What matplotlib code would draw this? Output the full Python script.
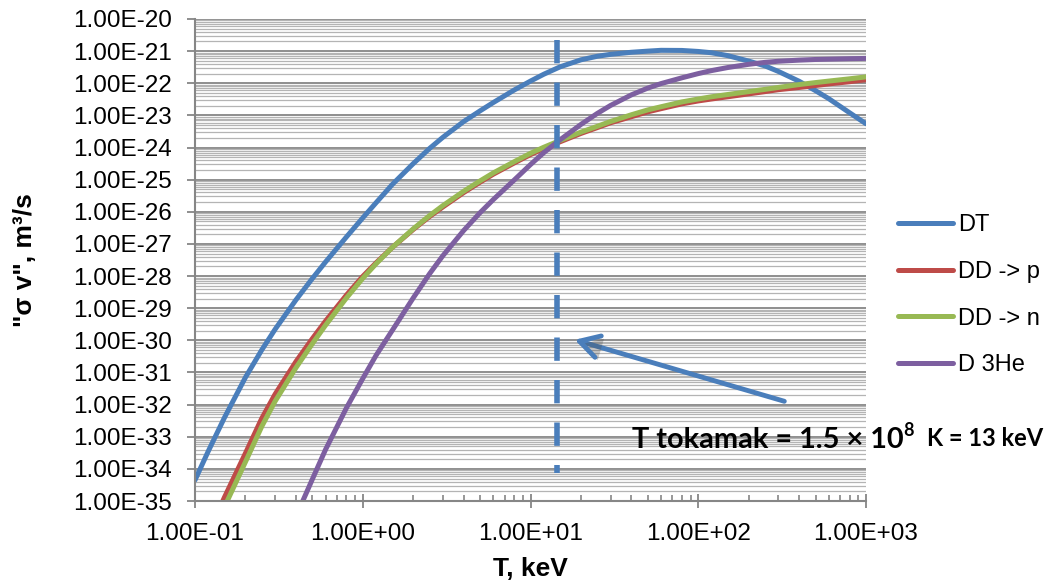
import numpy as np
import matplotlib
matplotlib.use("Agg")
import matplotlib.pyplot as plt
from matplotlib.ticker import LogLocator, FuncFormatter, NullFormatter
import matplotlib.patheffects as pe

plt.rcParams['font.family'] = ['Liberation Sans', 'DejaVu Sans']

# T in keV, <sigma v> in m^3/s
T_dt = [0.1, 0.12, 0.15, 0.2, 0.25, 0.3, 0.4, 0.5, 0.6, 0.8, 1, 1.2, 1.5, 2, 2.5, 3, 4, 5,
        6, 8, 10, 12, 15, 20, 25, 30, 40, 50, 60, 80, 100, 120, 150, 200, 250, 300,
        400, 500, 600, 800, 1000]
sv_dt = [4.47e-35, 3.55e-34, 3.98e-33, 7.08e-32, 5.01e-31, 2.19e-30, 1.82e-29, 8.32e-29,
         2.75e-28, 1.66e-27, 6.46e-27, 1.91e-26, 7.08e-26, 3.16e-25, 9.33e-25, 2.07e-24,
         6.46e-24, 1.38e-23, 2.51e-23, 6.17e-23, 1.17e-22, 1.91e-22, 3.24e-22, 5.37e-22,
         6.92e-22, 7.94e-22, 9.23e-22, 1.0e-21, 1.06e-21, 1.05e-21, 9.77e-22, 8.91e-22,
         7.24e-22, 4.90e-22, 3.47e-22, 2.34e-22, 1.15e-22, 5.89e-23, 3.31e-23, 1.20e-23,
         5.50e-24]

T_dd = [0.14, 0.15, 0.2, 0.25, 0.3, 0.4, 0.5, 0.6, 0.8, 1, 1.2, 1.5, 2, 2.5, 3, 4, 5, 6,
        8, 10, 12, 15, 20, 25, 30, 40, 50, 60, 80, 100, 120, 150, 200, 250, 300, 400,
        500, 600, 800, 1000]
sv_ddp = [5.89e-36, 1.32e-35, 3.09e-34, 3.72e-33, 2.09e-32, 2.19e-31, 1.12e-30, 3.98e-30,
          2.57e-29, 9.77e-29, 2.57e-28, 7.76e-28, 2.82e-27, 7.08e-27, 1.41e-26, 3.98e-26,
          8.32e-26, 1.48e-25, 3.31e-25, 6.03e-25, 9.33e-25, 1.51e-24, 2.75e-24, 4.17e-24,
          5.89e-24, 9.12e-24, 1.29e-23, 1.62e-23, 2.29e-23, 2.82e-23, 3.24e-23, 3.80e-23,
          4.68e-23, 5.50e-23, 6.31e-23, 7.41e-23, 8.51e-23, 9.55e-23, 1.12e-22, 1.29e-22]
sv_ddn = [2.95e-36, 6.61e-36, 1.66e-34, 2.09e-33, 1.26e-32, 1.41e-31, 7.76e-31, 2.95e-30,
          2.09e-29, 8.51e-29, 2.40e-28, 7.76e-28, 2.95e-27, 7.59e-27, 1.55e-26, 4.37e-26,
          9.12e-26, 1.62e-25, 3.63e-25, 6.61e-25, 1.02e-24, 1.66e-24, 3.02e-24, 4.57e-24,
          6.46e-24, 1.05e-23, 1.48e-23, 1.86e-23, 2.63e-23, 3.24e-23, 3.80e-23, 4.47e-23,
          5.50e-23, 6.46e-23, 7.41e-23, 9.12e-23, 1.05e-22, 1.17e-22, 1.38e-22, 1.58e-22]

T_dhe3 = [0.4, 0.5, 0.6, 0.8, 1, 1.2, 1.5, 2, 2.5, 3, 4, 5, 6, 8, 10, 12, 15, 20, 25, 30,
          40, 50, 60, 80, 100, 120, 150, 200, 250, 300, 400, 500, 600, 800, 1000]
sv_dhe3 = [3.31e-36, 4.68e-35, 3.98e-34, 7.94e-33, 6.46e-32, 3.39e-31, 2.04e-30, 2.09e-29,
           1.17e-28, 4.27e-28, 2.63e-27, 9.33e-27, 2.40e-26, 9.77e-26, 2.95e-25, 6.92e-25,
           1.74e-24, 5.25e-24, 1.15e-23, 2.04e-23, 4.37e-23, 7.08e-23, 9.77e-23, 1.48e-22,
           2.00e-22, 2.48e-22, 3.09e-22, 3.89e-22, 4.47e-22, 4.84e-22, 5.25e-22, 5.50e-22,
           5.62e-22, 5.82e-22, 5.93e-22]

labels = ["DT", "DD -> p", "DD -> n", "D 3He"]
colors = ["#4a7ebb", "#be4b48", "#98b954", "#7d5fa0"]

# tokamak temperature marker and arrow
T_tok = 14.4
sv_tok_range = [2.2e-21, 7.4e-35]
arrow_tail = (338, 1.2e-32)
arrow_head = (17.7, 1.1e-30)

W, H = 1051, 584
fig = plt.figure(figsize=(W / 100, H / 100), dpi=100)
ax = fig.add_axes([195 / W, 83 / H, 671 / W, 482 / H])

series = [(T_dt, sv_dt), (T_dd, sv_ddp), (T_dd, sv_ddn), (T_dhe3, sv_dhe3)]
for (t, s), lab, c in zip(series, labels, colors):
    ax.plot(t, s, color=c, lw=3.6, label=lab, solid_capstyle='round',
            solid_joinstyle='round')

ax.plot([T_tok, T_tok], sv_tok_range, color="#4a7ebb", lw=4.0,
        dashes=(4.2, 3.45), dash_capstyle='butt')

ax.annotate("", xy=arrow_head, xytext=arrow_tail,
            arrowprops=dict(arrowstyle="->,head_length=0.7,head_width=0.4",
                            color="#4a7ebb", lw=3.5, mutation_scale=20,
                            path_effects=[pe.SimplePatchShadow(offset=(2, -2), alpha=0.3),
                                          pe.Normal()]))

ax.set_xscale('log')
ax.set_yscale('log')
ax.set_xlim(0.1, 1000)
ax.set_ylim(1e-35, 1e-20)

fmt = FuncFormatter(lambda v, p: f"{v:.2E}")
for axis in (ax.xaxis, ax.yaxis):
    axis.set_major_locator(LogLocator(base=10, numticks=100))
    axis.set_minor_locator(LogLocator(base=10, subs=np.arange(2, 10), numticks=100))
    axis.set_major_formatter(fmt)
    axis.set_minor_formatter(NullFormatter())

ax.grid(True, which='major', axis='y', color='#868686', lw=1.3)
ax.grid(True, which='minor', axis='y', color='#b4b4b4', lw=0.9)
ax.set_axisbelow(True)

for s in ('top', 'right'):
    ax.spines[s].set_visible(False)
for s in ('left', 'bottom'):
    ax.spines[s].set_color('#868686')
    ax.spines[s].set_linewidth(1.5)

ax.tick_params(axis='y', which='major', direction='out', length=5.5, width=1.3,
               color='#868686', pad=11, labelsize=17.5)
ax.tick_params(axis='y', which='minor', length=0)
ax.tick_params(axis='x', which='major', direction='inout', length=10, width=1.3,
               color='#868686', pad=11, labelsize=17.5)
ax.tick_params(axis='x', which='minor', direction='in', length=4, width=1.2,
               color='#868686')

ax.set_xlabel("T, keV", fontsize=19, fontweight='bold', va='center')
ax.xaxis.set_label_coords(0.5, -0.142)
ax.set_ylabel('"\u03c3 v", m\u00b3/s', fontsize=19, fontweight='bold', va='center')
ax.yaxis.set_label_coords(-0.2534, 0.5)

ax.legend(loc='upper left', bbox_to_anchor=(898 / W, 1 - 214 / H),
          bbox_transform=fig.transFigure, frameon=False, fontsize=17,
          borderpad=0, borderaxespad=0, handlelength=2.33, handletextpad=0.2,
          labelspacing=1.05)

fig.text(632 / W, 1 - 448 / H, "T tokamak = 1.5 \u00d7 10", fontsize=20.8,
         fontweight='bold', family=['Lato', 'DejaVu Sans'], va='baseline')
fig.text(903 / W, 1 - 436 / H, "8", fontsize=13, fontweight='bold',
         family=['Lato', 'DejaVu Sans'], va='baseline')
fig.text(927 / W, 1 - 446 / H, "K = 13 keV", fontsize=17, fontweight='bold',
         family=['Lato', 'DejaVu Sans'], va='baseline')

fig.savefig("out.png", dpi=100)
